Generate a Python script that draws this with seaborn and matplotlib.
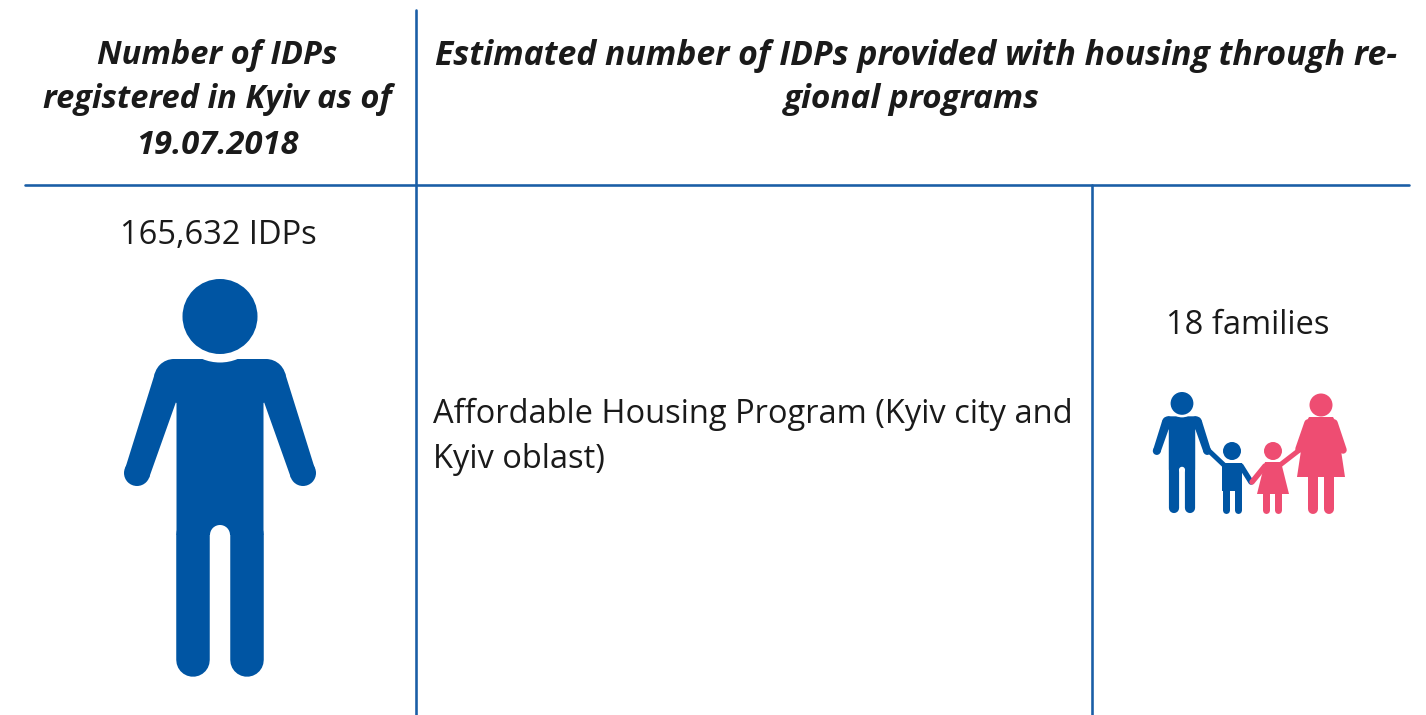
import matplotlib
matplotlib.use("Agg")
import matplotlib.pyplot as plt
import pandas as pd
import seaborn as sns
from matplotlib.patches import Circle, Polygon

# datos de la tabla
header_left = ["Number of IDPs", "registered in Kyiv as of", "19.07.2018"]
header_right = ["Estimated number of IDPs provided with housing through re-", "gional programs"]
program_lines = ["Affordable Housing Program (Kyiv city and", "Kyiv oblast)"]
idps_registered = 165632
families_housed = 18

BLUE = "#0055A3"
PINK = "#EE4D72"
RULE = "#1A5EA6"

sns.set_theme(style="white")
plt.rcParams["font.family"] = ["Open Sans", "DejaVu Sans"]

fig, ax = plt.subplots(figsize=(14.26, 7.15), dpi=100)
fig.subplots_adjust(left=0, right=1, top=1, bottom=0)
ax.set_xlim(0, 1426)
ax.set_ylim(715, 0)
ax.axis("off")


def px(w):
    # ancho en pixeles a puntos
    return w * 72 / 100


def rule(x0, y0, x1, y1):
    seg = pd.DataFrame({"x": [x0, x1], "y": [y0, y1]})
    sns.lineplot(data=seg, x="x", y="y", ax=ax, color=RULE, linewidth=px(2.6),
                 estimator=None, sort=False, legend=False)


def limb(x0, y0, x1, y1, w, color):
    ax.plot([x0, x1], [y0, y1], color=color, linewidth=px(w), solid_capstyle="round", zorder=2)


def blob(cx, cy, r, color, z=2):
    ax.add_patch(Circle((cx, cy), r, facecolor=color, edgecolor="none", zorder=z))


def shape(points, color, z=2):
    ax.add_patch(Polygon(points, closed=True, facecolor=color, edgecolor="none", zorder=z))


def man(cx, top, s, color):
    # figura de pie, medidas sobre la figura grande y escaladas con s
    X = lambda d: cx + d * s
    Y = lambda d: top + d * s
    P = lambda pts: [(X(a), Y(b)) for a, b in pts]
    # hueco del cuello y cabeza
    blob(X(0), Y(37.5), 46 * s, "white", z=3)
    blob(X(0), Y(37.5), 37.5 * s, color, z=4)
    # tronco
    shape(P([(-47, 80), (47, 80), (47, 122), (43.5, 124), (43.5, 256), (-43.5, 256), (-43.5, 124), (-47, 122)]), color)
    # hombros y brazos
    for side in (-1, 1):
        blob(X(side * 46), Y(100), 20 * s, color)
        shape(P([(side * 65, 94), (side * 95, 190), (side * 71, 199), (side * 44, 123), (side * 44, 90)]), color)
        blob(X(side * 83), Y(194), 13 * s, color)
        limb(X(side * 26.75), Y(256), X(side * 26.75), Y(381), 33.5 * s, color)
    # arriba del hueco entre las piernas
    blob(X(0), Y(256), 10 * s, "white", z=3)


def family():
    # padre
    man(1182, 392, 0.304, BLUE)
    limb(1207, 449, 1225, 466, 5, BLUE)
    # hijo
    blob(1232, 451, 9, BLUE)
    shape([(1222, 463), (1242, 463), (1242, 491), (1222, 491)], BLUE)
    limb(1241, 466, 1251, 482, 5.5, BLUE)
    limb(1226, 490, 1226, 510, 7, BLUE)
    limb(1238, 490, 1238, 510, 7, BLUE)
    # hija
    blob(1273, 451, 9, PINK)
    shape([(1265, 462), (1281, 462), (1289, 494), (1257, 494)], PINK)
    limb(1265, 466, 1252, 482, 5.5, PINK)
    limb(1280, 465, 1302, 448, 5, PINK)
    limb(1266, 492, 1266, 510, 7, PINK)
    limb(1278, 492, 1278, 510, 7, PINK)
    # madre
    blob(1321, 405, 11.5, PINK)
    shape([(1309, 417), (1333, 417), (1337, 424), (1345, 477), (1297, 477), (1305, 424)], PINK)
    limb(1308, 423, 1299, 449, 7.5, PINK)
    limb(1334, 423, 1343, 450, 7.5, PINK)
    limb(1313, 475, 1313, 509, 10, PINK)
    limb(1329, 475, 1329, 509, 10, PINK)


rule(416, 10, 416, 715)
rule(25, 185, 1409, 185)
rule(1092, 185, 1092, 715)

head_font = dict(fontweight="bold", fontstyle="italic", color="#1a1a1a", ha="center", va="center")
for y, line in zip([56, 100, 146], header_left):
    ax.text(217, y, line, fontsize=23.5, **head_font)
ax.text(916, 56, header_right[0], fontsize=24.3, **head_font)
ax.text(912, 100, header_right[1], fontsize=24, **head_font)

body_font = dict(fontsize=23.5, color="#1a1a1a", va="center")
ax.text(218, 235, f"{idps_registered:,} IDPs", ha="center", **body_font)
ax.text(1248, 325, f"{families_housed} families", ha="center", **body_font)
for y, line in zip([414, 459], program_lines):
    ax.text(433, y, line, ha="left", **body_font)

man(220, 279, 1.0, BLUE)
family()

fig.savefig("out.png", dpi=100, facecolor="white")
